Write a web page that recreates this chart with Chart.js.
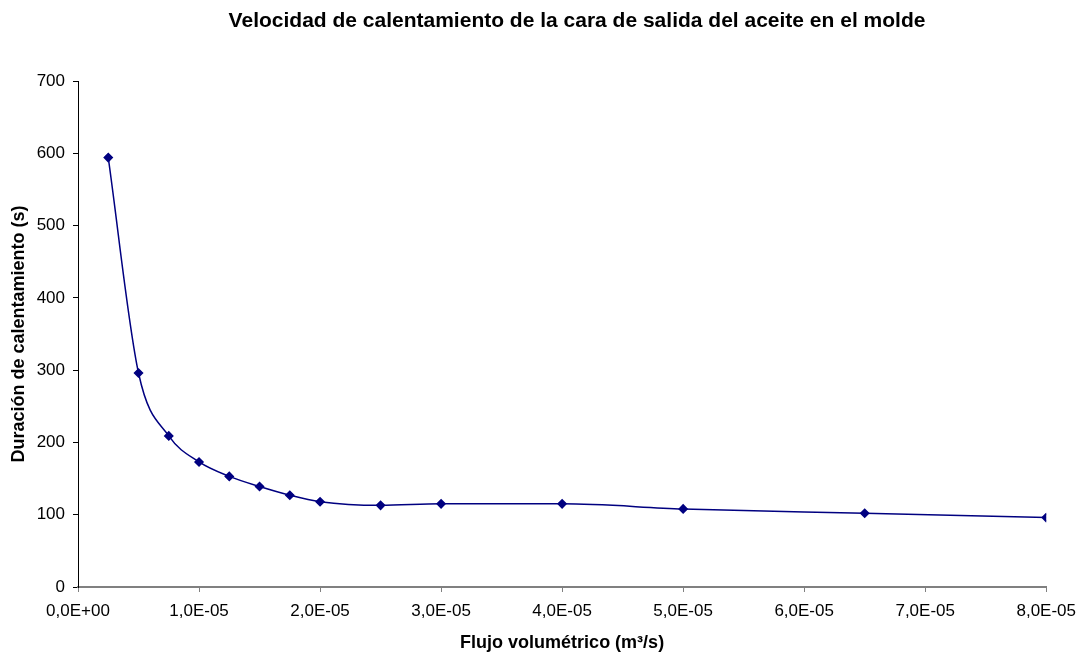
<!DOCTYPE html>
<html>
<head>
<meta charset="utf-8">
<script src="https://cdn.jsdelivr.net/npm/chart.js@4/dist/chart.umd.min.js"></script>
<style>
  html, body { margin: 0; padding: 0; background: #fff; }
  #wrap { width: 1085px; height: 657px; }
</style>
</head>
<body>
<div id="wrap"><canvas id="flowChart" width="1085" height="657"></canvas></div>
<script>
const chartTitle = 'Velocidad de calentamiento de la cara de salida del aceite en el molde';
const xTitle = 'Flujo volumétrico (m³/s)';
const yTitle = 'Duración de calentamiento (s)';

// flujo volumétrico (m3/s)
const flow = [2.5e-6, 5e-6, 7.5e-6, 1e-5, 1.25e-5, 1.5e-5, 1.75e-5, 2e-5, 2.5e-5, 3e-5, 4e-5, 5e-5, 6.5e-5, 8e-5];
// duración de calentamiento (s)
const duration = [594, 296, 209, 173, 153, 139, 127, 118, 113, 115, 115, 108, 102, 96];

const points = flow.map((x, i) => ({ x, y: duration[i] }));

const FONT = '"Liberation Sans", Arial, sans-serif';

function sciLabel(v){
	const [m, e] = Number(v).toExponential(1).split('e');
	const n = parseInt(e, 10);
	const exp = (n < 0 ? '-' : '+') + String(Math.abs(n)).padStart(2, '0');
	return m.replace('.', ',') + 'E' + exp;
}

// title drawn a bit right of the canvas centre, as in the original
const titlePlugin = {
	id: 'excelTitle',
	afterDraw(chart){
		const ctx = chart.ctx;
		ctx.save();
		ctx.font = 'bold 21px ' + FONT;
		ctx.fillStyle = '#000';
		ctx.textAlign = 'center';
		ctx.textBaseline = 'middle';
		ctx.fillText(chartTitle, 577, 21);
		ctx.restore();
	}
};

const navy = '#000080';

new Chart(document.getElementById('flowChart'), {
	type: 'scatter',
	data: {
		datasets: [{
			data: points,
			showLine: true,
			borderColor: navy,
			borderWidth: 1.5,
			backgroundColor: navy,
			pointStyle: 'rectRot',
			pointRadius: 4,
			pointHoverRadius: 4,
			tension: 0.35,
			cubicInterpolationMode: 'monotone'
		}]
	},
	options: {
		responsive: false,
		animation: false,
		layout: { padding: { top: 81, right: 35, left: 0, bottom: 0 } },
		plugins: { legend: { display: false }, tooltip: { enabled: false }, title: { display: false } },
		scales: {
			x: {
				type: 'linear',
				min: 0, max: 8e-5,
				afterFit(scale){ scale.height = 70; },
				ticks: { stepSize: 1e-5, callback: sciLabel, color: '#000', padding: 9, maxRotation: 0,
					font: { family: FONT, size: 17 } },
				grid: { drawOnChartArea: false, drawTicks: true, tickLength: 5, tickColor: '#808080' },
				border: { color: '#808080', width: 2 },
				title: { display: true, text: xTitle, color: '#000', padding: { top: 4, bottom: 3 },
					font: { family: FONT, size: 18, weight: 'bold' } }
			},
			y: {
				min: 0, max: 700,
				afterFit(scale){ scale.width = 78; },
				ticks: { stepSize: 100, color: '#000', padding: 8,
					font: { family: FONT, size: 17 } },
				grid: { drawOnChartArea: false, drawTicks: true, tickLength: 5, tickColor: '#000' },
				border: { color: '#000', width: 1 },
				title: { display: true, text: yTitle, color: '#000', padding: { top: 8, bottom: 0 },
					font: { family: FONT, size: 18, weight: 'bold' } }
			}
		}
	},
	plugins: [titlePlugin]
});
</script>
</body>
</html>
